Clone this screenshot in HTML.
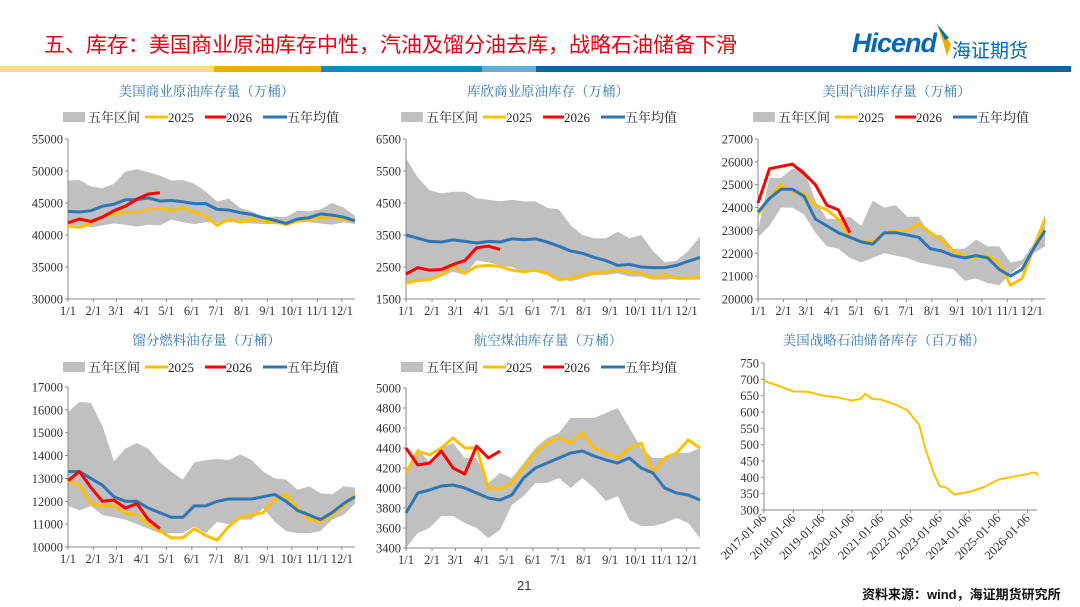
<!DOCTYPE html>
<html><head><meta charset="utf-8">
<style>
body{margin:0;width:1080px;height:607px;background:#fff;overflow:hidden;position:relative;font-family:"Liberation Serif","Noto Serif CJK SC",serif}
.t{position:absolute;white-space:nowrap}
</style></head><body>
<div class="t" style="left:44px;top:29px;font-size:21px;color:#e60012;font-family:'Liberation Sans','Noto Sans CJK SC',sans-serif;">五、库存：美国商业原油库存中性，汽油及馏分油去库，战略石油储备下滑</div>
<div class="t" style="left:852px;top:28px;font-size:27px;font-style:italic;font-weight:bold;color:#0068b7;font-family:'Liberation Sans',sans-serif;letter-spacing:-1px">Hicend</div>
<svg style="position:absolute;left:935px;top:22px" width="20" height="36"><path d="M2 2 L16 22 L12 34 L8 20 Z" fill="#f2ae00"/><path d="M2 2 L14 16 L10 18 Z" fill="#0068b7"/></svg>
<div class="t" style="left:952px;top:36px;font-size:19px;color:#0068b7;font-family:'Noto Sans CJK SC',sans-serif;">海证期货</div>
<div style="position:absolute;left:0;top:66px;width:1080px;height:6px;display:flex">
<div style="width:214px;background:#fbdc86"></div><div style="width:107px;background:#f2ae00"></div><div style="width:161px;background:#0b8ac7"></div><div style="width:54px;background:#5fb0e0"></div><div style="width:535px;background:#0066a6"></div></div>
<svg id="c" width="1080" height="607" style="position:absolute;left:0;top:0"></svg>
<div class="t" style="left:517px;top:578px;font-size:13px;color:#333;font-family:'Liberation Sans',sans-serif">21</div>
<div class="t" style="left:862px;top:584px;font-size:13px;color:#111;font-family:'Liberation Sans','Noto Sans CJK SC',sans-serif;font-weight:bold">资料来源：wind，海证期货研究所</div>
<script>
// ---- crude (万桶)
const crudeMax=[48500,48600,47600,47300,48000,49900,50300,49800,49300,48500,48600,48000,46800,45200,45700,44200,43700,42800,42900,42800,43800,43700,44000,45000,44300,43000];
const crudeMin=[41500,41500,41200,41500,41800,41600,41300,41600,41500,42400,42000,41700,42000,41900,42000,41900,41800,41700,41700,41600,42000,42000,41800,41600,42000,41700];
const crudeAvg=[43700,43600,43800,44500,44800,45500,45500,45800,45300,45400,45200,44900,44900,44000,43900,43500,43200,42700,42300,41800,42500,42700,43300,43100,42800,42200];
const crude2025=[41400,41200,41800,42900,43200,43600,43500,44100,44200,43800,44300,43600,42900,41500,42500,42000,42500,42100,42100,41600,42200,42300,42700,42600,42500,42200];
const crude2026=[41900,42500,42100,42800,43800,44500,45600,46400,46600];
const crudeTicks=[30000,35000,40000,45000,50000,55000];
// ---- cushing
const cushMax=[5900,5300,4900,4800,4850,4850,4650,4600,4550,4600,4550,4550,4350,4300,3800,3500,3400,3400,3600,3400,3500,3000,2650,2700,3000,3450];
const cushMin=[2000,2050,2100,2200,2350,2250,2700,2650,2550,2500,2350,2350,2250,2150,2050,2150,2250,2250,2300,2200,2200,2100,2100,2150,2100,2100];
const cushAvg=[3500,3400,3300,3280,3350,3300,3250,3300,3280,3380,3350,3380,3280,3150,3000,2930,2800,2700,2550,2580,2500,2480,2480,2550,2680,2800];
const cush2025=[2000,2080,2100,2250,2550,2300,2520,2550,2520,2400,2350,2400,2300,2100,2150,2250,2300,2350,2400,2350,2300,2150,2250,2150,2150,2200];
const cush2026=[2280,2480,2400,2420,2580,2700,3100,3150,3050];
const cushTicks=[1500,2500,3500,4500,5500,6500];
// ---- gasoline
const gasMax=[23000,25300,25300,25700,25700,24300,23500,23500,23600,23200,24300,24000,24100,23600,23600,22800,22800,22200,22200,22600,22300,22300,21600,21700,22400,23700];
const gasMin=[22700,23200,24000,24000,23700,22900,22300,22200,21800,21600,21800,22000,21900,21800,21600,21500,21400,21300,20800,20900,20700,20600,21100,21500,22000,22300];
const gasAvg=[23800,24400,24800,24800,24500,23500,23200,22900,22700,22500,22400,22900,22900,22800,22700,22200,22100,21900,21800,21900,21800,21300,21000,21300,22200,23000];
const gas2025=[23700,24400,25000,24700,24600,24100,23900,23500,22700,22500,22500,22900,23000,23000,23300,22900,22600,22100,21900,21800,21900,21600,20600,20900,22200,23500];
const gas2026=[24200,25700,25800,25900,25500,25000,24100,23900,22900];
const gasTicks=[20000,21000,22000,23000,24000,25000,26000,27000];
// ---- distillate
const distMax=[15900,16350,16300,15300,13750,14300,14550,14300,13700,13300,12950,13700,13800,13850,13800,14050,13800,13300,13000,12950,12500,12650,12350,12300,12650,12600];
const distMin=[11800,11600,11800,11400,11300,11200,11000,10800,10600,10600,10600,10900,10600,11100,11000,11200,11200,11700,11100,10700,10600,10600,10700,11200,11400,11900];
const distAvg=[13300,13300,13000,12700,12200,12000,12000,11700,11500,11300,11300,11800,11800,12000,12100,12100,12100,12200,12300,12000,11600,11400,11200,11500,11900,12200];
const dist2025=[12900,12700,11900,11800,11800,11500,11400,11000,10700,10400,10400,10800,10500,10300,10900,11300,11400,11500,12100,12300,11700,11200,11100,11400,11800,12300];
const dist2026=[12900,13300,12600,12000,12050,11700,11900,11200,10800];
const distTicks=[10000,11000,12000,13000,14000,15000,16000,17000];
// ---- jet
const jetMax=[4150,4400,4250,4400,4450,4300,4300,4050,4150,4100,4250,4400,4500,4550,4700,4700,4700,4750,4800,4600,4400,4300,4300,4350,4350,4400];
const jetMin=[3400,3550,3600,3720,3720,3650,3600,3500,3580,3830,3920,4050,4050,4100,4000,4100,4000,3870,3920,3680,3620,3620,3650,3700,3650,3500];
const jetAvg=[3750,3950,3980,4020,4030,4000,3950,3900,3880,3930,4100,4200,4250,4300,4350,4370,4320,4280,4250,4300,4200,4150,4000,3950,3930,3880];
const jet2025=[4150,4370,4330,4400,4500,4400,4400,4000,3990,4050,4200,4350,4450,4500,4450,4550,4400,4350,4300,4400,4450,4150,4300,4350,4480,4400];
const jet2026=[4400,4230,4250,4370,4200,4140,4420,4300,4370];
const jetTicks=[3400,3600,3800,4000,4200,4400,4600,4800,5000];
// ---- SPR (百万桶)
const sprYears=[2017.0,2017.5,2018.0,2018.5,2019.0,2019.5,2020.0,2020.3,2020.45,2020.7,2021.0,2021.5,2021.9,2022.0,2022.3,2022.5,2022.8,2023.0,2023.2,2023.5,2023.7,2024.0,2024.5,2025.0,2025.5,2026.0,2026.2,2026.3,2026.33];
const sprValues=[695,680,663,662,650,645,635,640,656,640,638,622,605,593,560,490,410,372,370,347,351,355,370,393,402,410,415,413,405];
const sprTicks=[300,350,400,450,500,550,600,650,700,750];
const sprLabels=["2017-01-06","2018-01-06","2019-01-06","2020-01-06","2021-01-06","2022-01-06","2023-01-06","2024-01-06","2025-01-06","2026-01-06"];
const monthLabels=["1/1","2/1","3/1","4/1","5/1","6/1","7/1","8/1","9/1","10/1","11/1","12/1"];
const monthDays=[0,31,59,90,120,151,181,212,243,273,304,334];

const NS="http://www.w3.org/2000/svg";
const svg=document.getElementById('c');
function mk(tag,attrs,parent){const e=document.createElementNS(NS,tag);for(const k in attrs)e.setAttribute(k,attrs[k]);(parent||svg).appendChild(e);return e;}
function txt(x,y,s,anchor,size,color,parent){const e=mk('text',{x:x,y:y,'text-anchor':anchor,'font-size':size,fill:color},parent);e.textContent=s;return e;}

function seasonal(name,title,cfg,maxA,minA,avgA,y25,y26,ticks){
  const g=mk('g',{});
  
  
  const lo=ticks[0],hi=ticks[ticks.length-1];
  const X=i=>cfg.x0+i*(cfg.x1-cfg.x0)/25;
  const Y=v=>cfg.yb-(v-lo)/(hi-lo)*(cfg.yb-cfg.yt);
  const wk=(cfg.x1-cfg.x0)/50;
  const tt=txt((cfg.x0+cfg.x1)/2-5,cfg.ty,title,'middle',13.5,'#2e75b6',g);
  
  
  const ly=cfg.ly, lx=cfg.x0-5;
  const lg=mk('g',{},g);
  
  
  mk('rect',{x:lx,y:ly-5,width:22,height:10,fill:'#c0c0c0'},lg);
  txt(lx+25,ly+5,'五年区间','start',13,'#222',lg);
  mk('line',{x1:lx+82,y1:ly,x2:lx+105,y2:ly,stroke:'#ffc000','stroke-width':3},lg);
  txt(lx+105,ly+5,'2025','start',13,'#222',lg);
  mk('line',{x1:lx+142,y1:ly,x2:lx+163,y2:ly,stroke:'#ff0000','stroke-width':3},lg);
  txt(lx+163,ly+5,'2026','start',13,'#222',lg);
  mk('line',{x1:lx+200,y1:ly,x2:lx+224,y2:ly,stroke:'#2e75b6','stroke-width':3},lg);
  txt(lx+224,ly+5,'五年均值','start',13,'#222',lg);
  let d='M'+maxA.map((v,i)=>X(i)+','+Y(v)).join(' L');
  for(let i=minA.length-1;i>=0;i--) d+=' L'+X(i)+','+Y(minA[i]);
  const band=mk('path',{d:d+'Z',fill:'#c0c0c0'},g);
  
  
  mk('line',{x1:cfg.x0,y1:cfg.yt,x2:cfg.x0,y2:cfg.yb,stroke:'#888','stroke-width':1},g);
  mk('line',{x1:cfg.x0,y1:cfg.yb,x2:cfg.x1,y2:cfg.yb,stroke:'#888','stroke-width':1},g);
  ticks.forEach(t=>{const y=Y(t);mk('line',{x1:cfg.x0-3,y1:y,x2:cfg.x0,y2:y,stroke:'#888'},g);txt(cfg.x0-5,y+4.5,String(t),'end',12.5,'#333',g);});
  monthLabels.forEach((m,i)=>{const x=cfg.x0+monthDays[i]/7*wk;mk('line',{x1:x,y1:cfg.yb,x2:x,y2:cfg.yb+3,stroke:'#888'},g);txt(x,cfg.yb+16,m,'middle',12.5,'#333',g);});
  const line=(arr,col,nm)=>{const p=mk('polyline',{points:arr.map((v,i)=>X(i)+','+Y(v)).join(' '),fill:'none',stroke:col,'stroke-width':3,'stroke-linejoin':'round'},g);
    
    };
  line(y25,'#ffc000','series-2025');
  line(avgA,'#2e75b6','series-five-year-avg');
  line(y26,'#ff0000','series-2026');
}
seasonal('crude-chart','美国商业原油库存量（万桶）',{x0:68,x1:355,yt:139,yb:299,ty:96,ly:117},crudeMax,crudeMin,crudeAvg,crude2025,crude2026,crudeTicks);
seasonal('cushing-chart','库欣商业原油库存（万桶）',{x0:406,x1:700,yt:139,yb:299,ty:96,ly:117},cushMax,cushMin,cushAvg,cush2025,cush2026,cushTicks);
seasonal('gasoline-chart','美国汽油库存量（万桶）',{x0:758,x1:1045,yt:139,yb:299,ty:96,ly:117},gasMax,gasMin,gasAvg,gas2025,gas2026,gasTicks);
seasonal('distillate-chart','馏分燃料油存量（万桶）',{x0:68,x1:355,yt:387,yb:547,ty:345,ly:367},distMax,distMin,distAvg,dist2025,dist2026,distTicks);
seasonal('jet-chart','航空煤油库存量（万桶）',{x0:406,x1:700,yt:388,yb:548,ty:345,ly:367},jetMax,jetMin,jetAvg,jet2025,jet2026,jetTicks);

(function(){
  const g=mk('g',{});
  
  
  const x0=764,yr=29.3,yt=363,yb=510,lo=300,hi=750;
  const X=t=>x0+(t-2017.0)*yr;
  const Y=v=>yb-(v-lo)/(hi-lo)*(yb-yt);
  const tt=txt(884,345,'美国战略石油储备库存（百万桶）','middle',13.5,'#2e75b6',g);
  
  
  mk('line',{x1:x0,y1:yt,x2:x0,y2:yb,stroke:'#888'},g);
  mk('line',{x1:x0,y1:yb,x2:1037,y2:yb,stroke:'#888'},g);
  sprTicks.forEach(t=>{const y=Y(t);mk('line',{x1:x0-3,y1:y,x2:x0,y2:y,stroke:'#888'},g);txt(x0-5,y+4.5,String(t),'end',12.5,'#333',g);});
  sprLabels.forEach((s,i)=>{const x=X(2017+i);mk('line',{x1:x,y1:yb,x2:x,y2:yb+3,stroke:'#888'},g);
    const e=txt(x+3,yb+9,s,'end',12.5,'#333',g);e.setAttribute('transform','rotate(-45 '+(x+3)+' '+(yb+9)+')');});
  const p=mk('polyline',{points:sprYears.map((t,i)=>X(t)+','+Y(sprValues[i])).join(' '),fill:'none',stroke:'#ffc000','stroke-width':2,'stroke-linejoin':'round'},g);
  
  
})();
</script>
</body></html>
